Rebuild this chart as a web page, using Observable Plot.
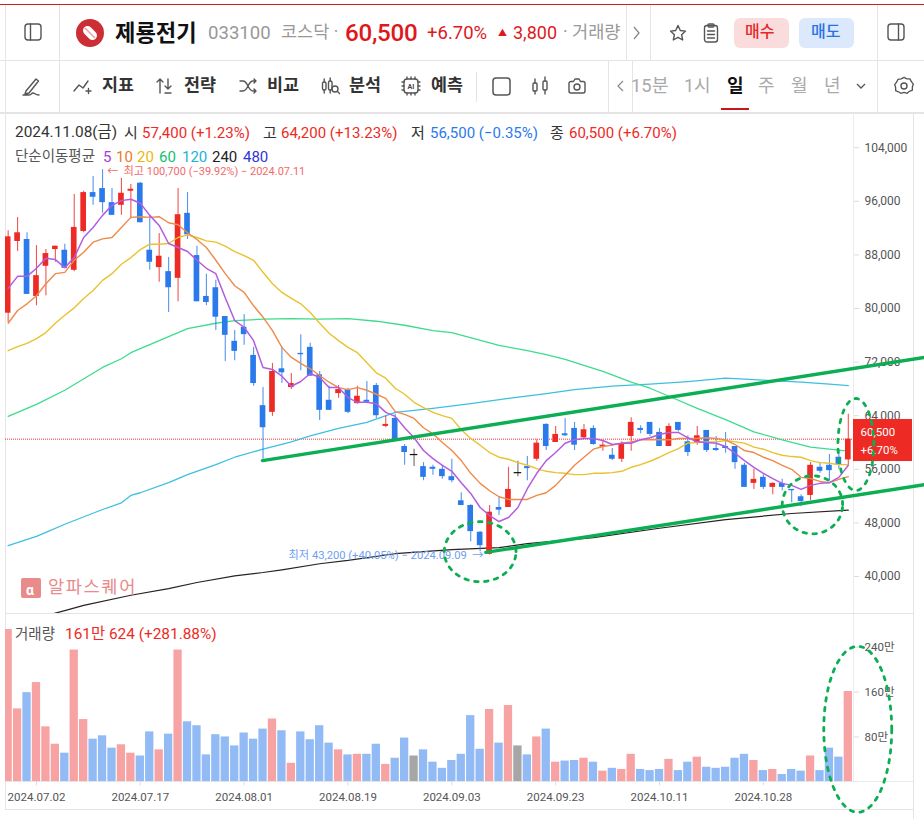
<!DOCTYPE html>
<html lang="ko"><head><meta charset="utf-8">
<script src="https://cdn.jsdelivr.net/npm/d3@7"></script>
<script src="https://cdn.jsdelivr.net/npm/@observablehq/plot@0.6"></script>
<style>
html,body{margin:0;padding:0;background:#fff;width:924px;height:819px;overflow:hidden}
body{position:relative;font-family:Roboto,"Noto Sans CJK KR",sans-serif;color:#333}
.t{position:absolute;white-space:nowrap;transform:translateY(-50%);line-height:1;z-index:3}
.box{position:absolute;z-index:1}
.ic{position:absolute;z-index:3;overflow:visible}
#price,#volume{position:absolute;left:0;z-index:2}
#price{top:120px}#volume{top:613px}
#price svg,#volume svg{background:transparent;display:block}
</style></head><body>
<div id="price"></div><div id="volume"></div>
<script>
const open=[79300,90000,90300,81800,86300,88800,88700,85700,91500,97300,97900,95800,95400,97500,98700,88700,86100,85500,84500,94200,87900,81800,83100,78800,75100,77200,73000,65500,64500,71000,68200,73300,74200,70100,66300,67300,67900,65800,66300,68500,62400,63600,59400,58200,56400,56300,56000,54900,51300,50600,46600,43300,50300,50300,55500,56400,57500,62700,60000,61300,62100,60700,62100,59300,58100,57500,60900,62100,63000,61500,59400,63000,60100,59900,61800,59100,59400,59400,56600,53900,54800,53300,53900,53000,51900,52100,56300,56600,57800,57400];
const close=[90700,91300,82100,84900,88200,89300,86000,92100,97300,96600,95800,93900,97200,97800,92800,86900,87800,83100,94000,91000,81000,80900,78700,76000,73600,76100,68800,62200,70600,70400,68800,73100,69900,64800,64800,67900,64500,66900,66000,64000,62700,60400,58500,58200,54800,56000,54900,54300,50600,46700,44600,49600,49900,53000,55500,56100,59900,59400,61200,61000,59600,61900,59700,59600,57500,59700,63000,61800,61200,59400,62400,61800,58500,61000,58800,58800,59100,57000,53300,54500,53300,53900,53300,52800,51200,56600,55700,55800,56600,60500];
const high=[91600,93600,91300,89400,88800,89300,89600,97000,97500,99700,100700,97900,99400,98500,98800,93900,91200,87600,97900,97300,89300,85100,84200,78800,76700,79100,74200,68200,71800,74200,70300,76100,74800,70600,68400,68500,68100,68400,69100,68800,63900,64200,59700,59000,57000,56600,56600,57500,52500,50700,46700,50600,51800,56300,57200,57900,60400,62800,62400,63600,63000,62700,62500,60300,59100,60100,63700,62500,63000,62100,62800,63000,61000,62400,61800,60900,61500,59400,56900,56000,55200,54000,54500,53000,52200,57000,57000,58200,58800,64200];
const low=[77900,88500,82100,80400,81900,86900,86000,85500,91300,95400,94200,93900,93900,93400,92800,85700,83900,79400,81000,90300,81000,80400,76700,72100,72200,74500,68400,57500,63900,68800,67900,70700,69900,63300,64800,66600,64300,65700,65800,63600,62200,60400,56600,56400,54300,55100,54500,54000,50600,45200,43700,43200,49100,50300,54900,54300,57200,58800,60000,60900,58800,60600,59600,58700,57300,57000,58700,61300,60900,59400,59400,61600,57900,59600,58500,58700,58400,56000,53300,53000,53000,52200,52800,51000,50400,51300,55400,54300,56000,56500];
const ma5=[83000,84800,84800,86000,87500,87300,86100,87600,90600,92100,93900,95400,96100,96300,95700,93900,92400,89700,89100,88500,87200,86000,85200,81600,78200,77200,75200,71200,70900,69900,68400,69100,70300,69700,68200,68200,66700,66000,66000,65800,64500,63900,62200,60700,58800,57600,56600,55700,54000,52400,50300,49100,48200,48800,50300,53100,55400,57300,58500,59900,60400,60600,60600,60300,59700,59900,59900,60400,60700,61200,61500,61500,60700,60100,60000,59900,59400,58400,57300,56300,55400,54600,53900,53600,53000,53600,53900,54000,54800,56600];
const ma10=[77800,79700,80700,81900,83700,85200,85400,87200,88400,89900,90400,90600,92100,93600,93700,93600,93700,92800,92500,91300,90300,89100,87200,85200,83400,82400,80400,78700,76700,74200,72700,71800,71000,70000,69000,68200,67900,68200,67800,67200,66600,64600,64200,63600,62200,61300,60000,58800,57300,55400,53900,52800,51900,51500,51500,51500,52100,52500,53600,55100,56600,57800,59000,59400,59600,59900,60100,60400,60400,60400,60400,60600,60600,60600,60700,60600,60400,59700,58800,58500,57800,57300,56600,56000,54800,54600,54200,54000,54500,54900];
const ma20=[73700,74300,74800,75500,76400,77800,79000,80100,81500,82700,84200,85200,86600,87600,88800,89600,89600,89700,90600,91000,90600,90100,89900,89300,88500,87900,87200,85400,83700,82400,81500,80700,79400,77800,76300,75200,74200,73400,71900,70400,69600,68100,67200,66000,65200,64500,64000,63600,61900,60600,59600,58500,57800,57500,57000,56600,56100,55700,55500,55400,55200,55200,55400,55400,55500,55700,56300,56700,57200,57800,58500,59100,59900,60000,60100,60100,60300,60100,59900,59300,59000,58500,58100,57900,57800,57300,57000,56900,56700,56700];
const ma60Idx=[0,3,6,10,12,13,16,19,22,24,27,30,33,36,39,42,45,47,52,55,57,59,61,63,66,68,70,73,76,79,82,85,87,89];
const ma60=[63900,65700,67800,71200,72500,73400,75200,77000,77800,78200,78400,78500,78400,78500,78100,77500,76700,76400,74500,73700,73100,72400,71500,70600,69000,68100,66900,65100,63400,61600,60400,59300,59000,58700];
const ma120Idx=[0,3,4,6,10,12,13,14,17,19,22,24,27,30,32,35,38,41,45,49,53,57,60,64,68,72,76,80,84,87,89];
const ma120=[44600,46000,46600,47800,50000,51000,52100,52500,54000,55200,56700,57800,59000,60100,61000,62100,63000,64500,65100,65800,66600,67300,67900,68400,68700,69100,69600,69300,69000,68700,68500];
const ma240Idx=[0,6,8,13,17,20,24,27,29,33,36,41,47,52,55,62,69,76,83,89];
const ma240=[32700,34900,35700,37200,38200,39100,40100,40600,41000,41900,42400,43400,44000,44300,44900,45800,47200,48500,49400,49900];
const volume=[275,130,159,177,98,67,51,235,111,76,82,60,66,51,46,89,57,85,235,107,100,48,84,80,64,87,76,94,112,91,33,89,75,100,69,57,48,49,49,67,31,42,78,46,57,35,24,38,49,118,58,129,69,136,64,48,80,94,35,37,38,42,35,19,24,22,49,22,20,22,40,20,35,44,26,24,26,42,49,38,20,22,13,22,19,46,20,60,44,161];
const priceTicks=[40000,48000,56000,64000,72000,80000,88000,96000,104000];
const volumeTicks=[80,160,240];
const dateIdx=[3,14,25,36,47,58,69,80];
const dateLabels=["2024.07.02","2024.07.17","2024.08.01","2024.08.19","2024.09.03","2024.09.23","2024.10.11","2024.10.28"];
const trendLines=[[[26.94,57300],[97.07,72700]],[[50.6,43600],[97.07,53700]]];
const priceEllipses=[[50,43700,3.8,4480],[85.2,50700,3.2,4330],[89.8,59700,1.9,6870]];
const volumeEllipse=[90,93.6,3.6,148];
const indexes=open.map((_,i)=>i);
const RED="#ee2a24",BLUE="#2b7aeb",GREEN="#0bae52";
const colorOf=i=>close[i]>open[i]?RED:close[i]<open[i]?BLUE:"#444";
const volColor=i=>close[i]>open[i]?"#f8a3a3":close[i]<open[i]?"#92bbf5":"#a6a6a6";
const xDomain=[-7.65/9.44,(924-7.65)/9.44];
const ellipse=([cx,cy,rx,ry])=>d3.range(0,361,4).map(a=>[cx+rx*Math.cos(a*Math.PI/180),cy+ry*Math.sin(a*Math.PI/180)]);
const maLine=(xs,ys,stroke,w)=>Plot.line(ys,{x:(d,i)=>xs?xs[i]:i,y:d=>d,stroke,strokeWidth:w,clip:"frame",curve:"linear"});
const FONT='Roboto,"Noto Sans CJK KR",sans-serif';

const price=Plot.plot({
  width:924,height:493,marginLeft:5,marginRight:71,marginTop:0,marginBottom:0,
  style:{fontFamily:FONT,fontSize:"12px",background:"transparent",overflow:"visible"},
  x:{domain:xDomain,range:[0,924],axis:null},
  y:{domain:[40000,104000],range:[456,27.2]},
  marks:[
    Plot.axisY({anchor:"right",ticks:priceTicks,tickFormat:d3.format(","),tickSize:5,tickPadding:6,stroke:"#ddd",fill:"#555",label:null}),
    Plot.ruleY([60500],{stroke:"#e33",strokeWidth:1,strokeDasharray:"1 1",clip:"frame"}),
    maLine(ma240Idx,ma240,"#2a2222",1.2),
    maLine(ma120Idx,ma120,"#3cc0e0",1.3),
    maLine(ma60Idx,ma60,"#3ddc8c",1.3),
    Plot.ruleX(indexes,{x:d=>d,y1:i=>low[i],y2:i=>high[i],stroke:colorOf,strokeWidth:1.1,strokeOpacity:.8,clip:"frame"}),
    Plot.rect(indexes.filter(i=>open[i]!==close[i]),{x1:i=>i-.3,x2:i=>i+.3,y1:i=>open[i],y2:i=>close[i],fill:colorOf,clip:"frame"}),
    Plot.ruleY(indexes.filter(i=>open[i]===close[i]),{x1:i=>i-.4,x2:i=>i+.4,y:i=>open[i],stroke:"#111",strokeWidth:1.2}),
    maLine(null,ma20,"#e9c22f",1.4),
    maLine(null,ma10,"#ee8a4a",1.4),
    maLine(null,ma5,"#b35ce0",1.5),
    Plot.rect([0],{x1:89.55,x2:95.8,y1:63430,y2:57160,fill:RED}),
    Plot.text(["60,500"],{x:90.3,y:61500,text:d=>d,textAnchor:"start",fill:"#fff",fontSize:11.5}),
    Plot.text(["+6.70%"],{x:90.3,y:58800,text:d=>d,textAnchor:"start",fill:"#fff",fontSize:11.5}),
    Plot.text(["←  최고 100,700 (−39.92%) − 2024.07.11"],{x:10.5,y:100450,text:d=>d,textAnchor:"start",fill:"#f26a6a",fontSize:11}),
    Plot.text(["최저 43,200 (+40.05%) − 2024.09.09  →"],{x:29.7,y:43100,text:d=>d,textAnchor:"start",fill:"#6ea0ef",fontSize:11.2}),
    ...trendLines.map(l=>Plot.line(l,{x:"0",y:"1",stroke:GREEN,strokeWidth:3.4})),
    ...priceEllipses.map(e=>Plot.line(ellipse(e),{x:"0",y:"1",stroke:GREEN,strokeWidth:2.8,strokeDasharray:"3.5 6.5",strokeLinecap:"round"}))
  ]
});
document.getElementById("price").append(price);

const vol=Plot.plot({
  width:924,height:206,marginLeft:5,marginRight:71,marginTop:16,marginBottom:37.7,
  style:{fontFamily:FONT,fontSize:"11.5px",background:"transparent",overflow:"visible"},
  x:{domain:xDomain,range:[0,924],axis:null},
  y:{domain:[0,240],range:[168.3,33.7]},
  marks:[
    Plot.rect(indexes,{x1:i=>i-.44,x2:i=>i+.44,y1:0,y2:i=>volume[i],fill:volColor,clip:"frame"}),
    Plot.axisY({anchor:"right",ticks:volumeTicks,tickFormat:d=>d+"만",tickSize:5,tickPadding:6,stroke:"#ddd",fill:"#555",label:null}),
    Plot.axisX({anchor:"bottom",ticks:dateIdx,tickFormat:d=>dateLabels[dateIdx.indexOf(d)],tickSize:4,tickPadding:7,stroke:"#ddd",fill:"#555",label:null}),
    Plot.line(ellipse(volumeEllipse),{x:"0",y:"1",stroke:GREEN,strokeWidth:2.8,strokeDasharray:"3.5 6.5",strokeLinecap:"round"})
  ]
});
document.getElementById("volume").append(vol);

/* page furniture */
const body=document.body;
const box=(x,y,w,h,bg,extra="")=>{const d=document.createElement("div");d.className="box";d.style.cssText=`left:${x}px;top:${y}px;width:${w}px;height:${h}px;background:${bg};${extra}`;body.append(d);return d};
const txt=(x,y,s,size,color,extra="")=>{const d=document.createElement("span");d.className="t";d.textContent=s;d.style.cssText=`left:${x}px;top:${y}px;font-size:${size}px;color:${color};${extra}`;body.append(d);return d};
const icon=(x,y,w,h,inner)=>{const n="http://www.w3.org/2000/svg";const s=document.createElementNS(n,"svg");s.setAttribute("class","ic");s.setAttribute("width",w);s.setAttribute("height",h);s.setAttribute("viewBox",`0 0 ${w} ${h}`);s.style.left=(x-w/2)+"px";s.style.top=(y-h/2)+"px";s.innerHTML=inner;body.append(s)};
const L="#e4e4e4";
box(0,4,924,1,"#d11a1a");
box(0,60,924,1,L);box(0,112,924,1.5,L);
box(5,5,1,804,"#e6e6e6");
box(59,5,1,107,L);box(626,5,1,55,L);box(650,5,1,55,L);box(877,5,1,107,L);
box(476,72,1,30,L);box(608,61,1,51,L);box(632,61,1,51,L);
box(853,113,1,668,"#ececec");box(913,113,1,706,"#e4e4e4");
box(5,613,908,1,L);box(5,781,908,1,"#e9e9e9");box(5,809,908,1,L);

const G='fill="none" stroke="#555" stroke-width="1.4" stroke-linecap="round" stroke-linejoin="round"';
icon(33,32,18,18,`<g ${G}><rect x="1" y="1" width="16" height="16" rx="3"/><path d="M6.500 1v16"/></g>`);
icon(90,33,28,28,`<circle cx="14" cy="14" r="14" fill="#cb2f35"/><rect x="6" y="9.500" width="16" height="9" rx="4.500" fill="#fff" transform="rotate(45 14 14)"/><path d="M9 9l10 10" stroke="#e8a0a0" stroke-width="1.500"/>`);
txt(115,33,"제룡전기",22.2,"#111","font-weight:700");
txt(208,33,"033100",18.6,"#999");
txt(281,33,"코스닥 ·",17.5,"#999");
txt(345,33,"60,500",24.2,"#e0181c","font-weight:500;letter-spacing:-.3px");
txt(427,33,"+6.70%",18.5,"#e0181c");
txt(498,33,"▲",9,"#e0181c");
txt(513,33,"3,800",18,"#e0181c");
txt(563,33,"· 거래량",17.6,"#999");
icon(637,33,8,14,`<path d="M1 1l5 6-5 6" fill="none" stroke="#888" stroke-width="1.300"/>`);
icon(678,33,18,18,`<g ${G}><path d="M9 1.500l2.300 5 5.200.6-3.900 3.600 1.100 5.300L9 13.300 4.300 16l1.100-5.300L1.500 7.100l5.200-.6z"/></g>`);
icon(711,33,16,20,`<g ${G}><rect x="1.500" y="2.500" width="13" height="16.500" rx="2.500"/><rect x="5" y="1" width="6" height="3" rx="1"/><path d="M4.500 8h7M4.500 11.500h7M4.500 15h7"/></g>`);
box(734,18,55,30,"#fbdcdc","border-radius:6px;z-index:2");
txt(745,32,"매수",16,"#e5282c","font-weight:500");
box(799,18,55,30,"#dce8fb","border-radius:6px;z-index:2");
txt(811,32,"매도",16,"#2a72e6","font-weight:500");
icon(896,32,18,18,`<g ${G}><rect x="1" y="1" width="16" height="16" rx="3"/><path d="M11.500 1v16"/></g>`);

icon(31,86,20,20,`<g ${G}><path d="M5 15L15 3l2.500 2L8 17l-4 1zM2 19h6c3 0 2-2 4-2s2 2 6 2"/></g>`);
[[82,"M2 15l5-6 4 3 5-7M14 15h5M16.500 12.500v5"],[165,"M5 3v14M2 6l3-3 3 3M13 3v10M10 10l3 3 3-3M10 17h6"],[248,"M2 5h3c5 0 5 10 10 10h3M2 15h3c5 0 5-10 10-10h3M16 3l2 2-2 2M16 13l2 2-2 2"]].forEach(([x,d])=>icon(x,86,20,20,`<path d="${d}" ${G}/>`));
icon(330,86,20,20,`<g ${G}><rect x="2.500" y="6" width="3.500" height="8" rx="1.500"/><path d="M4.200 3v3M4.200 14v3M10.200 2v3M10.200 14v3"/><rect x="8.500" y="5" width="3.500" height="9" rx="1.500"/><circle cx="15" cy="13" r="3"/><path d="M17.500 15.500l2 2"/></g>`);
[["지표",102],["전략",184],["비교",267],["분석",349],["예측",431]].forEach(([s,x])=>txt(x,86,s,17.4,"#333","font-weight:700"));
icon(411,86,20,20,`<g ${G}><rect x="3" y="3" width="14" height="14" rx="3"/><path d="M6 1v2M10 1v2M14 1v2M6 17v2M10 17v2M14 17v2M1 6h2M1 10h2M1 14h2M17 6h2M17 10h2M17 14h2"/></g><text x="10" y="13" text-anchor="middle" font-size="7" font-weight="700" fill="#444">AI</text>`);
icon(501,86,19,19,`<rect x="1" y="1" width="17" height="17" rx="3" fill="none" stroke="#555" stroke-width="1.500"/>`);
icon(540,86,18,20,`<g ${G}><rect x="2" y="7" width="4" height="8" rx="1"/><path d="M4 3v4M4 15v3"/><rect x="12" y="5" width="4" height="9" rx="1"/><path d="M14 1v4M14 14v4"/></g>`);
icon(577,86,20,18,`<g ${G}><path d="M2 6.500a2 2 0 0 1 2-2h2.500L8 2h4l1.500 2.500H16a2 2 0 0 1 2 2V14a2 2 0 0 1-2 2H4a2 2 0 0 1-2-2z"/><circle cx="10" cy="10" r="3"/></g>`);
icon(620,86,7,12,`<path d="M6 1L1 6l5 5" fill="none" stroke="#888" stroke-width="1.200"/>`);
txt(631,86,"15분",18.4,"#aaa");txt(684,86,"1시",18,"#aaa");
txt(727,86,"일",18,"#111","font-weight:700");
box(721,108,28,2,"#c8161c","z-index:3");
txt(758,86,"주",18,"#aaa");txt(791,86,"월",18,"#aaa");txt(824,86,"년",18,"#aaa");
icon(861,86,10,6,`<path d="M1 1l4 4 4-4" fill="none" stroke="#555" stroke-width="1.300"/>`);
icon(904,86,20,20,`<g ${G}><path d="M10 1.500l3 1.600 3.300-.1 1.500 3 2 2.500-1 3.100 0 3.300-3 1.200-2.500 2.100-3.300-1-3.300 1L4.200 16.600l-3-1.200V12.100l-1-3.100 2-2.500 1.500-3L7 3.100z" transform="translate(.5 0) scale(.95)"/><circle cx="10" cy="10" r="3"/></g>`);

/* readout lines */
txt(15,133,"2024.11.08(금)",15.4,"#333");
[[124,"시","#333"],[142,"57,400 (+1.23%)",RED],[263,"고","#333"],[281,"64,200 (+13.23%)",RED],[411,"저","#333"],[430,"56,500 (−0.35%)",BLUE],[550,"종","#333"],[569,"60,500 (+6.70%)",RED]].forEach(([x,s,c])=>txt(x,133,s,15,c));
txt(15,157,"단순이동평균",14.5,"#555");
[[103,"5","#a83bd6"],[116,"10","#ea7b2c"],[137,"20","#e8b90e"],[159,"60","#13c26a"],[182,"120","#1ab3d8"],[212,"240","#222"],[243,"480","#2f35d8"]].forEach(([x,s,c])=>txt(x,157,s,15,c));
txt(15,635,"거래량",14.5,"#555");
txt(65,635,"161만 624 (+281.88%)",15.4,RED);
box(21,578,20,20,"#e88b8b","border-radius:2px;z-index:3");
txt(26,590,"α",14,"#fff","font-weight:700;z-index:4");
txt(48,588,"알파스퀘어",17.6,"#e88b8b","letter-spacing:1.6px");
</script></body></html>
